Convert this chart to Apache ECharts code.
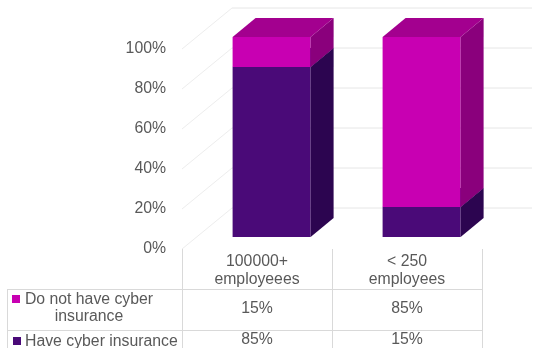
<!DOCTYPE html>
<html>
<head>
<meta charset="utf-8">
<script src="https://cdn.jsdelivr.net/npm/echarts@6/dist/echarts.min.js"></script>
<style>
html,body{margin:0;padding:0;background:#fff;}
#chart{width:534px;height:348px;}
</style>
</head>
<body>
<div id="chart"></div>
<script>
// ---- data ----
var categories = ['100000+\nemployeees', '< 250\nemployees'];
var haveInsurance = [85, 15];
var notHaveInsurance = [15, 85];
var seriesNames = ['Do not have cyber\ninsurance', 'Have cyber insurance'];
var yTicks = [0, 20, 40, 60, 80, 100];

// ---- style constants ----
var FONT = 'Liberation Sans, Arial, sans-serif';
var FS = 15.8;
var TXT = '#595959';
var WALL_DX = 50, WALL_DY = -41;     // depth of the 3D box
var BAR_FX = 14.6, BAR_FY = -12;     // offset of bar front plane
var BAR_DX = 23, BAR_DY = -19;       // bar depth
var BAR_RATIO = 0.52;
var colors = {
  magenta: { front: '#C800B2', side: '#8A007C', top: '#A3008F' },
  purple:  { front: '#4A0A78', side: '#2C0550', top: '#3A0763' }
};

var chart = echarts.init(document.getElementById('chart'), null, {renderer: 'canvas'});

function barItem(pal) {
  return function (params, api) {
    var cat = api.value(0), val = api.value(1), base = api.value(2);
    var p0 = api.coord([cat, base]);
    var p1 = api.coord([cat, base + val]);
    var bw = api.size([1, 0])[0] * BAR_RATIO;
    var xl = p0[0] - bw / 2 + BAR_FX, xr = xl + bw;
    var yb = p0[1] + BAR_FY, yt = p1[1] + BAR_FY;
    return {
      type: 'group',
      children: [
        { type: 'rect', shape: {x: xl, y: yt, width: bw, height: yb - yt}, style: {fill: pal.front} },
        { type: 'polygon', shape: {points: [[xr, yb], [xr + BAR_DX, yb + BAR_DY], [xr + BAR_DX, yt + BAR_DY], [xr, yt]]}, style: {fill: pal.side} },
        { type: 'polygon', shape: {points: [[xl, yt], [xr, yt], [xr + BAR_DX, yt + BAR_DY], [xl + BAR_DX, yt + BAR_DY]]}, style: {fill: pal.top} }
      ]
    };
  };
}

function gridItem(params, api) {
  var cs = params.coordSys;
  var y = api.coord([0, api.value(1)])[1];
  var x0 = cs.x;
  return {
    type: 'group',
    children: [
      { type: 'line', shape: {x1: x0, y1: y, x2: x0 + WALL_DX, y2: y + WALL_DY}, style: {stroke: '#EDEDED', lineWidth: 1} },
      { type: 'line', shape: {x1: x0 + WALL_DX, y1: y + WALL_DY, x2: x0 + cs.width + WALL_DX, y2: y + WALL_DY}, style: {stroke: '#E6E6E6', lineWidth: 1} }
    ]
  };
}

function tableItem(params, api) {
  var cs = params.coordSys;
  var x = api.coord([api.value(0), 0])[0];
  var row = api.value(2);
  var y = cs.y + cs.height + (row === 0 ? 60 : 91);
  return {
    type: 'text',
    style: {
      text: api.value(1) + '%', x: x, y: y, align: 'center', verticalAlign: 'middle',
      fill: TXT, font: FS + 'px ' + FONT
    }
  };
}

var purpleData = haveInsurance.map(function (v, i) { return [i, v, 0]; });
var magentaData = notHaveInsurance.map(function (v, i) { return [i, v, haveInsurance[i]]; });
var tableData = [];
notHaveInsurance.forEach(function (v, i) { tableData.push([i, v, 0]); });
haveInsurance.forEach(function (v, i) { tableData.push([i, v, 1]); });

var tableLine = {stroke: '#D9D9D9', lineWidth: 1};

chart.setOption({
  animation: false,
  backgroundColor: '#ffffff',
  grid: {left: 182, right: 52, top: 49, bottom: 99},
  xAxis: {
    type: 'category', data: categories,
    axisLine: {show: false}, axisTick: {show: false}, splitLine: {show: false},
    axisLabel: {color: TXT, fontFamily: FONT, fontSize: FS, lineHeight: 18, margin: 4, interval: 0}
  },
  yAxis: {
    type: 'value', min: 0, max: 100, interval: 20,
    axisLine: {show: false}, axisTick: {show: false}, splitLine: {show: false},
    axisLabel: {color: TXT, fontFamily: FONT, fontSize: FS, margin: 16, formatter: '{value}%'}
  },
  series: [
    { type: 'custom', name: 'grid', renderItem: gridItem, data: yTicks.map(function (t) { return [0, t]; }), z: 1, silent: true },
    { type: 'custom', name: seriesNames[1], renderItem: barItem(colors.purple), data: purpleData, z: 2 },
    { type: 'custom', name: seriesNames[0], renderItem: barItem(colors.magenta), data: magentaData, z: 3 },
    { type: 'custom', name: 'table', renderItem: tableItem, data: tableData, z: 4 }
  ],
  graphic: [
    { type: 'line', shape: {x1: 182.5, y1: 249, x2: 182.5, y2: 348}, style: tableLine },
    { type: 'line', shape: {x1: 332.5, y1: 249, x2: 332.5, y2: 348}, style: tableLine },
    { type: 'line', shape: {x1: 482.5, y1: 249, x2: 482.5, y2: 348}, style: tableLine },
    { type: 'line', shape: {x1: 7.5, y1: 289, x2: 7.5, y2: 348}, style: tableLine },
    { type: 'line', shape: {x1: 7, y1: 289.5, x2: 483, y2: 289.5}, style: tableLine },
    { type: 'line', shape: {x1: 7, y1: 330.5, x2: 483, y2: 330.5}, style: tableLine },
    { type: 'rect', shape: {x: 12, y: 295, width: 8, height: 8}, style: {fill: colors.magenta.front} },
    { type: 'text', x: 89, y: 308.5, style: {text: seriesNames[0], align: 'center', verticalAlign: 'middle', lineHeight: 17, fill: TXT, font: FS + 'px ' + FONT} },
    { type: 'rect', shape: {x: 13, y: 337, width: 8, height: 8}, style: {fill: colors.purple.front} },
    { type: 'text', x: 25, y: 341.5, style: {text: seriesNames[1], align: 'left', verticalAlign: 'middle', fill: TXT, font: FS + 'px ' + FONT} }
  ]
});
</script>
</body>
</html>
